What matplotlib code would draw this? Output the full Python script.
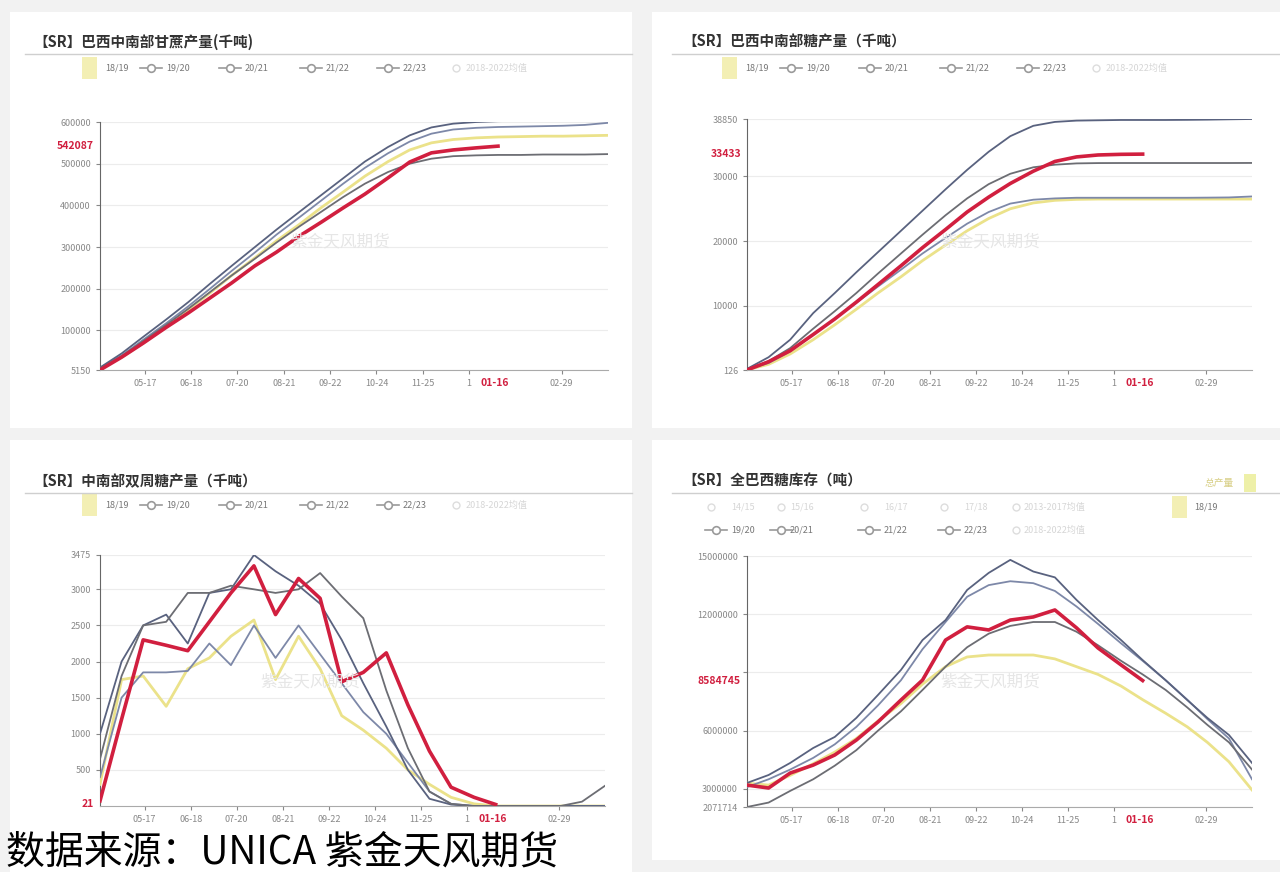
import pandas as pd
import matplotlib
matplotlib.use('Agg')
from matplotlib import pyplot as plt
from matplotlib.lines import Line2D
from matplotlib.patches import Rectangle

plt.rcParams['font.family'] = ['Noto Sans CJK SC', 'DejaVu Sans']
plt.rcParams['axes.unicode_minus'] = False

# 半月度数据点(榨季从4月开始, 最后一个04-01属于下一年)
periods = ['04-16', '05-01', '05-16', '06-01', '06-16', '07-01', '07-16', '08-01',
           '08-16', '09-01', '09-16', '10-01', '10-16', '11-01', '11-16', '12-01',
           '12-16', '01-01', '01-16', '02-01', '02-16', '03-01', '03-16', '04-01']
seasons = ['18/19', '19/20', '20/21', '21/22', '22/23']
# 12-27 的标签被当前日期标签遮住, 只露出 "1"
tick_dates = ['05-17', '06-18', '07-20', '08-21', '09-22', '10-24', '11-25', '12-27', '02-29']
tick_labels = ['05-17', '06-18', '07-20', '08-21', '09-22', '10-24', '11-25', '1', '02-29']
current_date = '01-16'

# 巴西中南部甘蔗累计压榨量(千吨)
cane_1819 = [9000, 36000, 70000, 110000, 150000, 190000, 232000, 274000, 315000, 355000, 395000, 432000,
             470000, 505000, 533000, 550000, 558000, 562000, 564000, 565000, 566000, 566000, 567000, 568000]
cane_1920 = [10000, 40000, 78000, 118000, 158000, 200000, 243000, 287000, 330000, 372000, 412000, 452000,
             490000, 525000, 553000, 572000, 582000, 586000, 588000, 589000, 590000, 591000, 593000, 598000]
cane_2021 = [11000, 45000, 85000, 127000, 168000, 212000, 255000, 300000, 342000, 385000, 425000, 465000,
             505000, 540000, 568000, 587000, 596000, 600000, 602000, 603000, 604000, 605000, 607000, 612000]
cane_2122 = [8000, 38000, 75000, 114000, 152000, 192000, 232000, 272000, 311000, 350000, 385000, 420000,
             452000, 480000, 500000, 512000, 518000, 520000, 521000, 521000, 522000, 522000, 522000, 523000]
cane_2223 = [5150, 36000, 70000, 108000, 142000, 178000, 214000, 255000, 288000, 327000, 360000, 394000,
             427000, 466000, 504000, 526000, 533000, 538000, 542087]

# 巴西中南部累计糖产量(千吨)
sugar_1819 = [150, 1000, 2600, 4800, 7100, 9500, 12000, 14500, 17000, 19400, 21600, 23500,
              25000, 25900, 26300, 26450, 26500, 26500, 26500, 26500, 26500, 26500, 26500, 26500]
sugar_1920 = [200, 1200, 3000, 5600, 8000, 10500, 13000, 15600, 18100, 20500, 22700, 24500,
              25800, 26400, 26600, 26700, 26700, 26700, 26700, 26700, 26700, 26720, 26750, 26900]
sugar_2021 = [300, 2100, 4800, 8900, 12000, 15200, 18300, 21600, 24700, 28000, 31000, 33800,
              36200, 37800, 38400, 38600, 38650, 38700, 38700, 38700, 38720, 38750, 38800, 38850]
sugar_2122 = [200, 1500, 3500, 6500, 9200, 12000, 15000, 18100, 21000, 24000, 26600, 28800,
              30400, 31400, 31800, 32000, 32050, 32060, 32060, 32060, 32060, 32060, 32060, 32070]
sugar_2223 = [126, 1400, 3100, 5600, 8000, 10600, 13300, 16200, 19000, 21800, 24500, 26800,
              28900, 30800, 32300, 33000, 33300, 33400, 33433]

# 中南部双周糖产量(千吨)
fort_1819 = [300, 1750, 1800, 1380, 1900, 2050, 2350, 2575, 1750, 2350, 1900, 1250,
             1050, 800, 500, 300, 120, 30, 0, 0, 0, 0, 0, 0]
fort_1920 = [400, 1500, 1850, 1850, 1870, 2250, 1950, 2500, 2050, 2500, 2100, 1700,
             1300, 1000, 600, 200, 30, 0, 0, 0, 0, 0, 0, 0]
fort_2021 = [1000, 2000, 2500, 2650, 2250, 2950, 3000, 3475, 3250, 3050, 2800, 2300,
             1700, 1100, 500, 100, 20, 0, 0, 0, 0, 0, 0, 0]
fort_2122 = [650, 1800, 2500, 2550, 2950, 2950, 3050, 3000, 2950, 3000, 3225, 2900,
             2600, 1600, 800, 200, 30, 0, 0, 0, 0, 0, 60, 280]
fort_2223 = [70, 1200, 2300, 2225, 2150, 2550, 2950, 3325, 2650, 3150, 2875, 1720,
             1850, 2120, 1400, 760, 260, 120, 21]

# 全巴西糖库存(吨)
stock_1819 = [3300000, 3200000, 3700000, 4300000, 4900000, 5600000, 6500000, 7400000, 8400000, 9300000,
              9800000, 9900000, 9900000, 9900000, 9700000, 9300000, 8900000, 8300000, 7600000, 6900000,
              6200000, 5400000, 4400000, 2950000]
stock_1920 = [3100000, 3500000, 4000000, 4600000, 5300000, 6200000, 7300000, 8600000, 10200000, 11600000,
              12900000, 13500000, 13700000, 13600000, 13200000, 12400000, 11500000, 10500000, 9600000, 8600000,
              7600000, 6600000, 5600000, 3500000]
stock_2021 = [3310000, 3720000, 4340000, 5110000, 5680000, 6660000, 7840000, 9130000, 10670000, 11700000,
              13250000, 14130000, 14800000, 14200000, 13900000, 12740000, 11700000, 10670000, 9640000, 8600000,
              7580000, 6660000, 5780000, 4340000]
stock_2122 = [2071714, 2300000, 2900000, 3500000, 4200000, 5000000, 6000000, 7000000, 8100000, 9300000,
              10300000, 11000000, 11400000, 11600000, 11600000, 11100000, 10400000, 9600000, 8900000, 8100000,
              7200000, 6300000, 5400000, 4000000]
stock_2223 = [3200000, 3050000, 3820000, 4230000, 4750000, 5520000, 6450000, 7580000, 8610000, 10670000,
              11350000, 11190000, 11700000, 11860000, 12220000, 11300000, 10260000, 9390000, 8584745]

colors = {'18/19': '#ebe28a', '19/20': '#7d88a8', '20/21': '#59627f',
          '21/22': '#6c6d73', '22/23': '#d11f3f'}
RED = '#d11f3f'
W, H = 1280, 872


def season_day(s):
    m, d = map(int, s.split('-'))
    year = 2023 if (m > 4 or (m == 4 and d > 1)) else 2024
    return (pd.Timestamp(year, m, d) - pd.Timestamp(2023, 4, 1)).days


x_days = [season_day(p) for p in periods]
tick_days = [season_day(t) for t in tick_dates]


def fx(x):
    return x / W


def fy(y):
    return 1 - y / H


fig = plt.figure(figsize=(12.8, 8.72), dpi=100)
fig.patch.set_facecolor('#f2f2f2')

# 白色卡片背景
for l, t, r, b in [(10, 12, 632, 428), (652, 12, 1280, 428), (10, 440, 632, 872), (652, 440, 1280, 860)]:
    fig.add_artist(Rectangle((fx(l), fy(b)), fx(r - l), (b - t) / H, transform=fig.transFigure,
                             facecolor='white', edgecolor='none', zorder=0))


def draw_panel(rect, series, ylim, yticks, ylabels, red_val, title, title_xy, sep, watermark):
    l, t, r, b = rect
    ax = fig.add_axes([fx(l), fy(b), (r - l) / W, (b - t) / H])
    ax.set_facecolor('white')
    for name, vals in series:
        is_cur = name == '22/23'
        ax.plot(x_days[:len(vals)], vals, color=colors[name],
                lw=2.6 if is_cur else (2.0 if name == '18/19' else 1.3),
                zorder=5 if is_cur else 3, solid_joinstyle='round')
    ax.set_xlim(x_days[0], x_days[-1])
    ax.set_ylim(*ylim)
    ax.set_yticks(yticks)
    ax.set_yticklabels(ylabels)
    ax.set_xticks(tick_days)
    ax.set_xticklabels(tick_labels)
    ax.tick_params(axis='both', labelsize=6.5, labelcolor='#888888', color='#888888', length=3, width=0.8)
    ax.yaxis.grid(True, color='#ececec', lw=0.8)
    ax.set_axisbelow(True)
    for s in ['top', 'right']:
        ax.spines[s].set_visible(False)
    ax.spines['left'].set_color('#666666')
    ax.spines['bottom'].set_color('#aaaaaa')
    # 当前值标注
    ax.text(-0.012, red_val, str(red_val), transform=ax.get_yaxis_transform(), ha='right', va='center',
            color=RED, fontsize=7.5, fontweight='bold',
            bbox=dict(facecolor='white', edgecolor='none', pad=1.0), zorder=10, clip_on=False)
    ax.annotate(current_date, xy=(season_day(current_date), 0),
                xycoords=ax.get_xaxis_transform(),
                xytext=(-2, -6), textcoords='offset points', ha='center', va='top',
                color=RED, fontsize=7.5, fontweight='bold', annotation_clip=False, zorder=10)
    fig.text(fx(title_xy[0]), fy(title_xy[1]), title, fontsize=10.5, fontweight='bold',
             color='#333333', va='center', ha='left')
    fig.add_artist(Line2D([fx(sep[0]), fx(sep[1])], [fy(sep[2])] * 2, transform=fig.transFigure,
                          color='#cfcfcf', lw=1))
    fig.text(fx(watermark[0]), fy(watermark[1]), '紫金天风期货', fontsize=12, color='#e6e6e6',
             ha='center', va='center', zorder=1)
    return ax


def legend_row(y, items):
    for icon_x, text_x, label, kind in items:
        if kind == 'block':
            fig.add_artist(Rectangle((fx(icon_x), fy(y + 11)), fx(15), 22 / H, transform=fig.transFigure,
                                     facecolor='#f3efb4', edgecolor='none'))
            tc = '#777777'
        elif kind == 'line':
            fig.add_artist(Line2D([fx(icon_x), fx(icon_x + 22)], [fy(y)] * 2, transform=fig.transFigure,
                                  color='#9a9a9a', lw=1.2))
            fig.add_artist(Line2D([fx(icon_x + 11)], [fy(y)], transform=fig.transFigure, marker='o',
                                  ms=5.5, mfc='white', mec='#9a9a9a', mew=1.2))
            tc = '#777777'
        else:
            fig.add_artist(Line2D([fx(icon_x + 6)], [fy(y)], transform=fig.transFigure, marker='o',
                                  ms=5, mfc='white', mec='#dddddd', mew=1))
            tc = '#d6d6d6'
        fig.text(fx(text_x), fy(y), label, fontsize=6.5, color=tc, va='center', ha='left')


def std_legend(y, dx):
    legend_row(y, [(82 + dx, 105 + dx, seasons[0], 'block'),
                   (140 + dx, 166 + dx, seasons[1], 'line'),
                   (219 + dx, 245 + dx, seasons[2], 'line'),
                   (300 + dx, 326 + dx, seasons[3], 'line'),
                   (377 + dx, 403 + dx, seasons[4], 'line'),
                   (450 + dx, 466 + dx, '2018-2022均值', 'faint')])


# 甘蔗累计压榨
draw_panel((100, 122, 608, 370),
           [('18/19', cane_1819), ('19/20', cane_1920), ('20/21', cane_2021), ('21/22', cane_2122), ('22/23', cane_2223)],
           (min(cane_2223), 600000), [5150, 100000, 200000, 300000, 400000, 500000, 600000],
           ['5150', '100000', '200000', '300000', '400000', '500000', '600000'], cane_2223[-1],
           '【SR】巴西中南部甘蔗产量(千吨)', (33, 42), (25, 632, 54), (340, 242))
std_legend(68, 0)

# 累计糖产量
draw_panel((747, 119, 1252, 370),
           [('18/19', sugar_1819), ('19/20', sugar_1920), ('20/21', sugar_2021), ('21/22', sugar_2122), ('22/23', sugar_2223)],
           (min(sugar_2223), 38850), [126, 10000, 20000, 30000, 38850],
           ['126', '10000', '20000', '30000', '38850'], sugar_2223[-1],
           '【SR】巴西中南部糖产量（千吨）', (682, 42), (672, 1280, 54), (990, 242))
std_legend(68, 640)

# 双周糖产量
draw_panel((100, 555, 605, 806),
           [('18/19', fort_1819), ('19/20', fort_1920), ('20/21', fort_2021), ('21/22', fort_2122), ('22/23', fort_2223)],
           (0, max(fort_2021)), [500, 1000, 1500, 2000, 2500, 3000, 3475],
           ['500', '1000', '1500', '2000', '2500', '3000', '3475'], fort_2223[-1],
           '【SR】中南部双周糖产量（千吨）', (33, 481), (25, 632, 493), (310, 682))
std_legend(505, 0)

# 糖库存
draw_panel((747, 556, 1252, 807),
           [('18/19', stock_1819), ('19/20', stock_1920), ('20/21', stock_2021), ('21/22', stock_2122), ('22/23', stock_2223)],
           (min(stock_2122), 15000000), [2071714, 3000000, 6000000, 9000000, 12000000, 15000000],
           ['2071714', '3000000', '6000000', '', '12000000', '15000000'], stock_2223[-1],
           '【SR】全巴西糖库存（吨）', (682, 481), (672, 1280, 493), (990, 682))
legend_row(507, [(705, 731, '14/15', 'faint'), (775, 790, '15/16', 'faint'), (858, 884, '16/17', 'faint'),
                 (938, 964, '17/18', 'faint'), (1010, 1024, '2013-2017均值', 'faint'),
                 (1172, 1194, seasons[0], 'block')])
legend_row(530, [(705, 731, seasons[1], 'line'), (770, 790, seasons[2], 'line'), (858, 884, seasons[3], 'line'),
                 (938, 964, seasons[4], 'line'), (1010, 1024, '2018-2022均值', 'faint')])
fig.text(fx(1205), fy(483), '总产量', fontsize=7, color='#d8cf86', va='center', ha='left')
fig.add_artist(Rectangle((fx(1244), fy(492)), fx(12), 18 / H, transform=fig.transFigure,
                         facecolor='#eef0a8', edgecolor='none'))

# 数据来源
fig.text(fx(6), fy(864), '数据来源：UNICA 紫金天风期货', fontsize=28, color='black', va='baseline', ha='left')

fig.savefig('out.png', dpi=100, facecolor=fig.get_facecolor())
